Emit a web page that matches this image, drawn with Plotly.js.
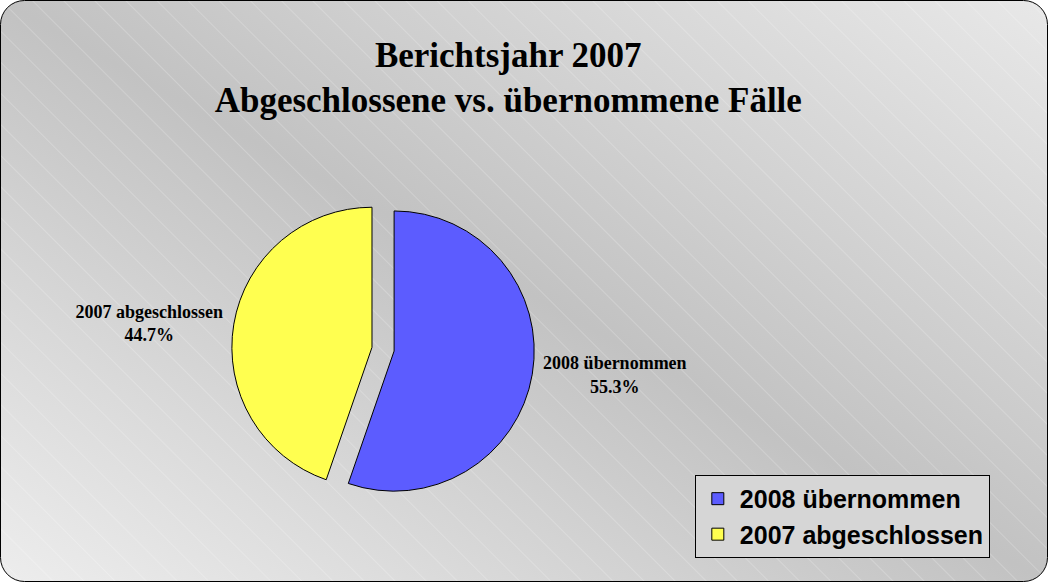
<!DOCTYPE html>
<html>
<head>
<meta charset="utf-8">
<script src="https://cdn.plot.ly/plotly-3.0.1.min.js"></script>
<style>html,body{margin:0;padding:0;background:#fff;}#chart{width:1048px;height:582px;}</style>
</head>
<body>
<div id="chart"></div>
<script>
const categories = ["2008 übernommen", "2007 abgeschlossen"];
const shares = [55.3, 44.7];
const sliceColors = ["#5c5cff", "#ffff50"];
const titleLines = ["Berichtsjahr 2007", "Abgeschlossene vs. übernommene Fälle"];

const bgSvg = "<svg xmlns='http://www.w3.org/2000/svg' width='1048' height='582'>" +
  "<defs>" +
  "<linearGradient id='g' x1='0' y1='1' x2='1' y2='0'>" +
  "<stop offset='0' stop-color='#ededed'/>" +
  "<stop offset='0.5' stop-color='#c2c2c2'/>" +
  "<stop offset='1' stop-color='#e8e8e8'/>" +
  "</linearGradient>" +
  "<pattern id='p' width='22' height='22' patternUnits='userSpaceOnUse' patternTransform='rotate(-45)'>" +
  "<line x1='0' y1='0' x2='0' y2='22' stroke='#ffffff' stroke-opacity='0.4' stroke-width='1'/>" +
  "</pattern></defs>" +
  "<rect x='0.5' y='0.5' width='1047' height='581' rx='24' ry='24' fill='url(#g)'/>" +
  "<rect x='0.5' y='0.5' width='1047' height='581' rx='24' ry='24' fill='url(#p)' stroke='#000' stroke-width='1'/>" +
  "</svg>";
const bgUri = "data:image/svg+xml;charset=utf-8," + encodeURIComponent(bgSvg);

const trace = {
  type: "pie",
  labels: categories,
  values: shares,
  sort: false,
  direction: "clockwise",
  rotation: 0,
  pull: [0.08, 0.08],
  marker: { colors: sliceColors, line: { color: "#000", width: 1 } },
  textposition: "outside",
  texttemplate: "<b>%{label}</b><br><b>%{value:.1f}%</b>",
  textfont: { family: "Liberation Serif", size: 18, color: "#000" },
  hoverinfo: "label+percent",
  domain: { x: [0.216, 0.515], y: [0.14, 0.66] },
  automargin: false
};

const layout = {
  width: 1048,
  height: 582,
  margin: { l: 0, r: 0, t: 0, b: 0 },
  paper_bgcolor: "#ffffff",
  title: {
    text: "<b>" + titleLines.join("<br>") + "</b>",
    font: { family: "Liberation Serif", size: 35, color: "#000" },
    x: 0.485, xanchor: "center",
    y: 0.885, yanchor: "top", yref: "container"
  },
  showlegend: true,
  legend: {
    x: 0.663, xanchor: "left",
    y: 0.184, yanchor: "top",
    bgcolor: "#d6d6d6",
    bordercolor: "#000",
    borderwidth: 1,
    font: { family: "Liberation Sans", size: 25, color: "#000", weight: "bold" },
    itemwidth: 34,
    entrywidth: 318,
    entrywidthmode: "pixels"
  },
  images: [{
    source: bgUri, xref: "paper", yref: "paper",
    x: 0, y: 1, sizex: 1, sizey: 1,
    xanchor: "left", yanchor: "top",
    sizing: "stretch", layer: "below"
  }]
};

Plotly.newPlot("chart", [trace], layout, { displayModeBar: false, staticPlot: true });
</script>
</body>
</html>
